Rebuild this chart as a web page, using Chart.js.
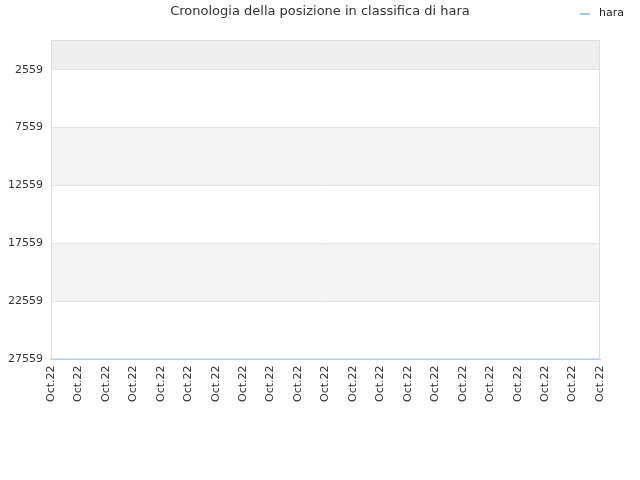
<!DOCTYPE html>
<html>
<head>
<meta charset="utf-8">
<script src="https://cdn.jsdelivr.net/npm/chart.js@4/dist/chart.umd.min.js"></script>
<style>
  html, body { margin: 0; padding: 0; background: #fff; }
  #wrap { width: 640px; height: 480px; }
</style>
</head>
<body>
<div id="wrap"><canvas id="chart"></canvas></div>
<script>
const titleText = "Cronologia della posizione in classifica di hara";
const seriesName = "hara";
const seriesColor = "#9fcbf2";
const dateLabels = [
  "Oct.22", "Oct.22", "Oct.22", "Oct.22", "Oct.22", "Oct.22", "Oct.22",
  "Oct.22", "Oct.22", "Oct.22", "Oct.22", "Oct.22", "Oct.22", "Oct.22",
  "Oct.22", "Oct.22", "Oct.22", "Oct.22", "Oct.22", "Oct.22", "Oct.22"
];
const rankValues = [
  27559, 27559, 27559, 27559, 27559, 27559, 27559,
  27559, 27559, 27559, 27559, 27559, 27559, 27559,
  27559, 27559, 27559, 27559, 27559, 27559, 27559
];
const yTicks = [2559, 7559, 12559, 17559, 22559, 27559];
const yMin = 0;
const yMax = 27559;

// alternating bands behind the plot, plus the frame, title and legend
const bandsPlugin = {
  id: "bands",
  beforeDraw(chart) {
    const { ctx, chartArea: a, scales: { y } } = chart;
    const edges = [yMin].concat(yTicks);
    ctx.save();
    for (let i = 0; i < edges.length - 1; i++) {
      const top = y.getPixelForValue(edges[i]);
      const bottom = y.getPixelForValue(edges[i + 1]);
      if (i === 0) ctx.fillStyle = "#eeeeee";
      else ctx.fillStyle = i % 2 === 0 ? "#f3f3f3" : "#ffffff";
      ctx.fillRect(a.left, top, a.right - a.left, bottom - top);
    }
    ctx.restore();
  },
  afterDraw(chart) {
    const { ctx, chartArea: a } = chart;
    ctx.save();
    ctx.strokeStyle = "#dddddd";
    ctx.lineWidth = 1;
    ctx.beginPath();
    ctx.moveTo(a.left + 0.5, a.bottom);
    ctx.lineTo(a.left + 0.5, a.top + 0.5);
    ctx.lineTo(a.right - 0.5, a.top + 0.5);
    ctx.lineTo(a.right - 0.5, a.bottom);
    ctx.stroke();

    ctx.fillStyle = "#333333";
    ctx.font = "13px 'DejaVu Sans'";
    ctx.textAlign = "center";
    ctx.textBaseline = "middle";
    ctx.fillText(titleText, 320, 12);

    // legend
    ctx.fillStyle = seriesColor;
    ctx.fillRect(580, 13, 10, 2);
    ctx.fillStyle = "#222222";
    ctx.font = "11px 'DejaVu Sans'";
    ctx.textAlign = "left";
    ctx.fillText(seriesName, 599, 13);
    ctx.restore();
  }
};

const ctx = document.getElementById("chart").getContext("2d");
new Chart(ctx, {
  type: "line",
  data: {
    labels: dateLabels,
    datasets: [{
      label: seriesName,
      data: rankValues,
      borderColor: seriesColor,
      backgroundColor: seriesColor,
      borderWidth: 2,
      pointRadius: 0,
      tension: 0
    }]
  },
  options: {
    responsive: true,
    maintainAspectRatio: false,
    animation: false,
    layout: { padding: { left: 0, right: 40, top: 40, bottom: 72 } },
    plugins: {
      title: { display: false },
      tooltip: { enabled: false },
      legend: { display: false }
    },
    scales: {
      x: {
        grid: { display: false, drawTicks: false },
        border: { display: true, color: "#cccccc" },
        ticks: {
          color: "#333",
          font: { family: "'DejaVu Sans'", size: 11 },
          minRotation: 90,
          maxRotation: 90,
          autoSkip: false,
          padding: 6
        }
      },
      y: {
        reverse: true,
        min: yMin,
        max: yMax,
        afterBuildTicks(axis) {
          axis.ticks = yTicks.map(v => ({ value: v }));
        },
        grid: { color: "#e4e4e4", drawTicks: false },
        border: { display: false },
        ticks: {
          color: "#333",
          font: { family: "'DejaVu Sans'", size: 11 },
          padding: 8,
          callback: v => String(v)
        }
      }
    }
  },
  plugins: [bandsPlugin]
});
</script>
</body>
</html>
